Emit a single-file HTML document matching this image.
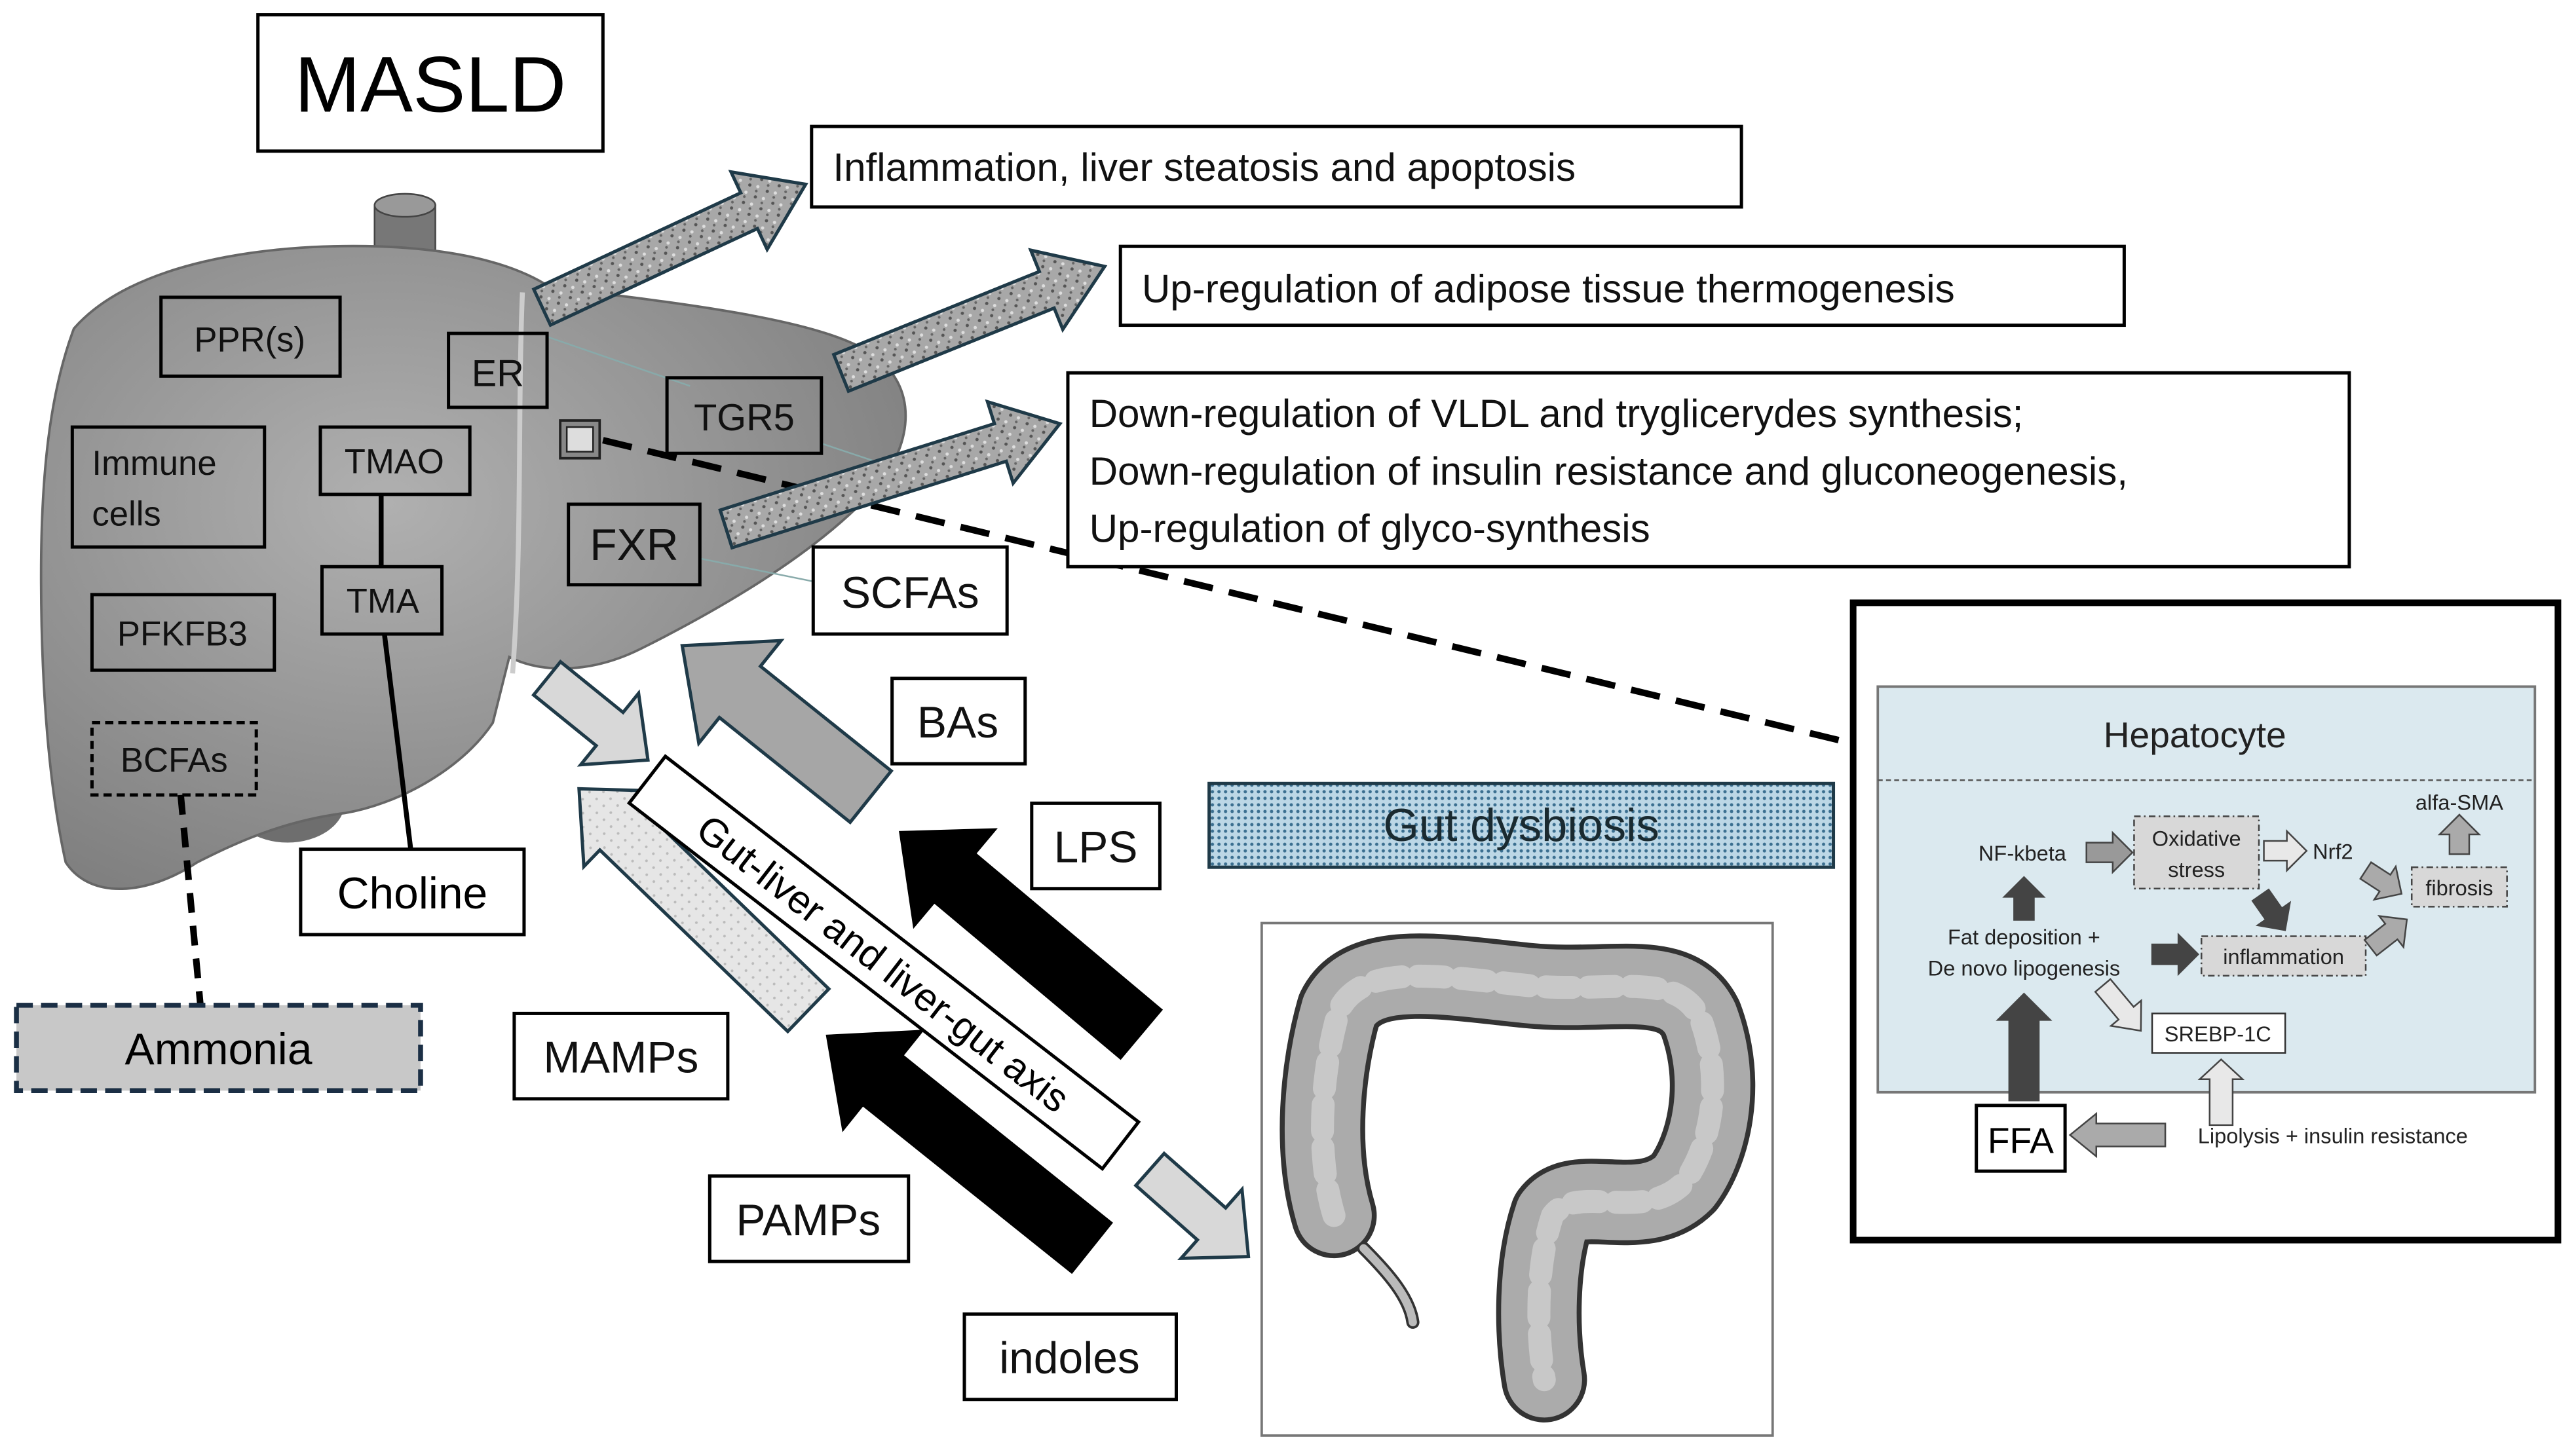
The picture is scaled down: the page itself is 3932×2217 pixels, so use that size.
<!DOCTYPE html>
<html><head><meta charset="utf-8"><style>
html,body{margin:0;padding:0;background:#fff;}
svg{display:block;}
text{font-family:"Liberation Sans",sans-serif;}
</style></head><body>
<svg width="3932" height="2217" viewBox="0 0 1568 884" preserveAspectRatio="none" xmlns="http://www.w3.org/2000/svg">
<defs>
<radialGradient id="lg" cx="0.4" cy="0.4" r="0.7">
<stop offset="0" stop-color="#b0b0b0"/><stop offset="1" stop-color="#7e7e7e"/></radialGradient>
<pattern id="spk" width="8" height="8" patternUnits="userSpaceOnUse">
<rect width="8" height="8" fill="#a8a8a8"/><circle cx="2" cy="2" r="1" fill="#555"/><circle cx="6" cy="5" r="1" fill="#ddd"/><circle cx="4" cy="7" r=".8" fill="#666"/></pattern>
<pattern id="dot" width="4" height="4" patternUnits="userSpaceOnUse">
<rect width="4" height="4" fill="#bcd7e6"/><circle cx="2" cy="2" r="1" fill="#3b6f90"/></pattern>
<pattern id="lt" width="6" height="6" patternUnits="userSpaceOnUse">
<rect width="6" height="6" fill="#e6e6e6"/><circle cx="2" cy="3" r=".8" fill="#bbb"/></pattern>
</defs>

<rect x="157" y="9" width="210" height="83" fill="#fff" stroke="#000" stroke-width="2"/>
<text x="262" y="68" font-size="48" text-anchor="middle">MASLD</text>

<rect x="228" y="125" width="37" height="40" fill="#777" stroke="#444"/>
<ellipse cx="246.5" cy="125" rx="18.5" ry="7" fill="#999" stroke="#444"/>
<ellipse cx="175" cy="488" rx="35" ry="25" fill="#6e6e6e"/>
<path d="M45,200 C80,160 160,148 230,150 C290,152 320,165 335,175 C420,185 500,195 530,215 C560,235 555,270 535,295 C500,335 440,370 390,395 C360,410 330,410 310,400 L300,440 C280,470 240,490 210,495 C170,500 140,515 120,525 C90,545 55,548 40,525 C30,480 25,420 25,350 C25,290 30,240 45,200 Z" fill="url(#lg)" stroke="#666" stroke-width="1.5"/>
<path d="M318,178 C315,250 318,330 312,410" stroke="#ccc" stroke-width="3" fill="none"/>
<line x1="333" y1="205" x2="420" y2="235" stroke="#8aa" stroke-width="1"/>
<line x1="500" y1="270" x2="560" y2="290" stroke="#8aa" stroke-width="1"/>
<line x1="426" y1="340" x2="500" y2="355" stroke="#8aa" stroke-width="1"/>

<g fill="none" stroke="#000" stroke-width="2">
<rect x="98" y="181" width="109" height="48"/>
<rect x="273" y="203" width="60" height="45"/>
<rect x="44" y="260" width="117" height="73"/>
<rect x="195" y="260" width="91" height="41"/>
<rect x="196" y="345" width="73" height="41"/>
<rect x="406" y="230" width="94" height="46"/>
<rect x="346" y="307" width="80" height="49"/>
<rect x="56" y="362" width="111" height="46"/>
<rect x="56" y="440" width="100" height="44" stroke-dasharray="5,3"/>
</g>
<rect x="341" y="256" width="24" height="23" fill="#888" stroke="#222" stroke-width="1.5"/>
<rect x="345" y="260" width="16" height="15" fill="#ddd" stroke="#222" stroke-width="1"/>
<g font-size="21" fill="#111">
<text x="152" y="214" text-anchor="middle">PPR(s)</text>
<text x="303" y="235" font-size="23" text-anchor="middle">ER</text>
<text x="56" y="289">Immune</text><text x="56" y="320">cells</text>
<text x="240" y="288" text-anchor="middle">TMAO</text>
<text x="233" y="373" text-anchor="middle">TMA</text>
<text x="453" y="262" font-size="23" text-anchor="middle">TGR5</text>
<text x="386" y="341" font-size="27" text-anchor="middle">FXR</text>
<text x="111" y="393" text-anchor="middle">PFKFB3</text>
<text x="106" y="470" text-anchor="middle">BCFAs</text>
</g>
<line x1="232" y1="301" x2="232" y2="345" stroke="#000" stroke-width="3"/>
<line x1="234" y1="386" x2="250" y2="517" stroke="#000" stroke-width="3"/>
<line x1="110" y1="484" x2="122" y2="612" stroke="#000" stroke-width="4" stroke-dasharray="12,8"/>
<line x1="367" y1="268" x2="1125" y2="452" stroke="#000" stroke-width="4" stroke-dasharray="18,10"/>

<rect x="183" y="517" width="136" height="52" fill="#fff" stroke="#000" stroke-width="2"/>
<text x="251" y="553" font-size="27" text-anchor="middle">Choline</text>
<rect x="10" y="612" width="246" height="52" fill="#c8c8c8" stroke="#1b2f45" stroke-width="3" stroke-dasharray="10,5"/>
<text x="133" y="648" font-size="27" text-anchor="middle">Ammonia</text>

<g fill="url(#spk)" stroke="#1f3a48" stroke-width="2">
<polygon transform="translate(330,187) rotate(-25)" points="0,-12 139,-12 139,-26 177,0 139,26 139,12 0,12"/>
<polygon transform="translate(512,227) rotate(-22)" points="0,-12 135,-12 135,-26 173,0 135,26 135,12 0,12"/>
<polygon transform="translate(442,322) rotate(-17.5)" points="0,-12 175,-12 175,-26 213,0 175,26 175,12 0,12"/>
</g>

<g fill="#fff" stroke="#000" stroke-width="2">
<rect x="494" y="77" width="566" height="49"/>
<rect x="682" y="150" width="611" height="48"/>
<rect x="650" y="227" width="780" height="118"/>
<rect x="495" y="333" width="118" height="53"/>
<rect x="543" y="413" width="81" height="52"/>
<rect x="628" y="489" width="78" height="52"/>
<rect x="313" y="617" width="130" height="52"/>
<rect x="432" y="716" width="121" height="52"/>
<rect x="587" y="800" width="129" height="52"/>
</g>
<g font-size="24" fill="#111">
<text x="507" y="110">Inflammation, liver steatosis and apoptosis</text>
<text x="695" y="184">Up-regulation of adipose tissue thermogenesis</text>
<text x="663" y="260">Down-regulation of VLDL and tryglicerydes synthesis;</text>
<text x="663" y="295">Down-regulation of insulin resistance and gluconeogenesis,</text>
<text x="663" y="330">Up-regulation of glyco-synthesis</text>
<text x="554" y="370" font-size="27" text-anchor="middle">SCFAs</text>
<text x="583" y="449" font-size="27" text-anchor="middle">BAs</text>
<text x="667" y="525" font-size="27" text-anchor="middle">LPS</text>
<text x="378" y="653" font-size="27" text-anchor="middle">MAMPs</text>
<text x="492" y="752" font-size="27" text-anchor="middle">PAMPs</text>
<text x="651" y="836" font-size="27" text-anchor="middle">indoles</text>
</g>

<rect x="736" y="477" width="380" height="51" fill="url(#dot)" stroke="#1f3a48" stroke-width="2"/>
<text x="926" y="512" font-size="28" text-anchor="middle" fill="#1a2a30">Gut dysbiosis</text>

<polygon transform="translate(333,413) rotate(39)" points="0,-13 49,-13 49,-28 79,0 49,28 49,13 0,13" fill="#d8d8d8" stroke="#1f3a48" stroke-width="2"/>
<polygon transform="translate(530,485) rotate(218.7)" points="0,-20 102,-20 102,-40 147,0 102,40 102,20 0,20" fill="#a6a6a6" stroke="#1f3a48" stroke-width="2"/>
<polygon transform="translate(492,615) rotate(224)" points="0,-18 159,-18 159,-32 194,0 159,32 159,18 0,18" fill="url(#lt)" stroke="#1f3a48" stroke-width="2"/>
<polygon transform="translate(695,630) rotate(220)" points="0,-20 148,-20 148,-40 193,0 148,40 148,20 0,20" fill="#000"/>
<polygon transform="translate(665,760) rotate(218.7)" points="0,-20 163,-20 163,-40 208,0 163,40 163,20 0,20" fill="#000"/>
<polygon transform="translate(700,712) rotate(41.5)" points="0,-13 50,-13 50,-28 80,0 50,28 50,13 0,13" fill="#d8d8d8" stroke="#1f3a48" stroke-width="2"/>

<g transform="translate(538,586) rotate(37.7)">
<rect x="-182" y="-18" width="364" height="36" fill="#fff" stroke="#000" stroke-width="2"/>
<text x="0" y="9" font-size="24" text-anchor="middle">Gut-liver and liver-gut axis</text>
</g>

<rect x="768" y="562" width="311" height="312" fill="#fff" stroke="#777" stroke-width="1.5"/>
<g fill="none" stroke-linecap="round" stroke-linejoin="round">
<path d="M812,740 C800,700 805,650 815,615 C830,585 880,595 930,600 C980,605 1020,590 1035,620 C1050,660 1040,700 1025,720 C1000,745 960,720 945,740 C935,770 935,810 940,840" stroke="#333" stroke-width="52"/>
<path d="M812,740 C800,700 805,650 815,615 C830,585 880,595 930,600 C980,605 1020,590 1035,620 C1050,660 1040,700 1025,720 C1000,745 960,720 945,740 C935,770 935,810 940,840" stroke="#ababab" stroke-width="46"/>
<path d="M812,740 C800,700 805,650 815,615 C830,585 880,595 930,600 C980,605 1020,590 1035,620 C1050,660 1040,700 1025,720 C1000,745 960,720 945,740 C935,770 935,810 940,840" stroke="#c8c8c8" stroke-width="14" stroke-dasharray="16,10"/>
<path d="M830,760 C845,775 858,790 860,805" stroke="#333" stroke-width="8"/>
<path d="M830,760 C845,775 858,790 860,805" stroke="#bbb" stroke-width="5"/>
</g>

<rect x="1128" y="367" width="429" height="388" fill="#fff" stroke="#000" stroke-width="4"/>
<rect x="1143" y="418" width="400" height="247" fill="#dbe9ef" stroke="#777" stroke-width="1.5"/>
<line x1="1143" y1="475" x2="1543" y2="475" stroke="#555" stroke-dasharray="3,2"/>
<text x="1336" y="455" font-size="22" text-anchor="middle" fill="#222">Hepatocyte</text>
<g fill="#d8d8d8" stroke="#444" stroke-dasharray="4,2,1,2">
<rect x="1299" y="497" width="76" height="44"/>
<rect x="1468" y="528" width="58" height="24"/>
<rect x="1340" y="570" width="100" height="24"/>
</g>
<rect x="1310" y="617" width="81" height="24" fill="#fff" stroke="#333"/>
<rect x="1203" y="673" width="54" height="40" fill="#fff" stroke="#000" stroke-width="2"/>
<g font-size="13" fill="#222" text-anchor="middle">
<text x="1231" y="524">NF-kbeta</text>
<text x="1337" y="515">Oxidative</text><text x="1337" y="534">stress</text>
<text x="1420" y="523">Nrf2</text>
<text x="1497" y="493">alfa-SMA</text>
<text x="1497" y="545">fibrosis</text>
<text x="1390" y="587">inflammation</text>
<text x="1232" y="575">Fat deposition +</text>
<text x="1232" y="594">De novo lipogenesis</text>
<text x="1350" y="634">SREBP-1C</text>
<text x="1230" y="702" font-size="22" fill="#000">FFA</text>
<text x="1420" y="696">Lipolysis + insulin resistance</text>
</g>
<g stroke="#444" stroke-width="1">
<polygon transform="translate(1270,519) rotate(0)" points="0,-6 16,-6 16,-12 28,0 16,12 16,6 0,6" fill="#999"/>
<polygon transform="translate(1378,518) rotate(0)" points="0,-6 14,-6 14,-12 26,0 14,12 14,6 0,6" fill="#e8e8e8"/>
<polygon transform="translate(1440,530) rotate(33)" points="0,-6 14,-6 14,-12 26,0 14,12 14,6 0,6" fill="#aaa"/>
<polygon transform="translate(1376,545) rotate(55)" points="0,-6 14,-6 14,-12 26,0 14,12 14,6 0,6" fill="#444"/>
<polygon transform="translate(1497,520) rotate(-90)" points="0,-6 12,-6 12,-12 24,0 12,12 12,6 0,6" fill="#aaa"/>
<polygon transform="translate(1232,560) rotate(-90)" points="0,-6 14,-6 14,-12 26,0 14,12 14,6 0,6" fill="#444"/>
<polygon transform="translate(1310,581) rotate(0)" points="0,-6 16,-6 16,-12 28,0 16,12 16,6 0,6" fill="#444"/>
<polygon transform="translate(1443,577) rotate(-38)" points="0,-6 16,-6 16,-12 28,0 16,12 16,6 0,6" fill="#aaa"/>
<polygon transform="translate(1280,600) rotate(50)" points="0,-6 22,-6 22,-12 36,0 22,12 22,6 0,6" fill="#e8e8e8"/>
<polygon transform="translate(1232,670) rotate(-90)" points="0,-9 49,-9 49,-16 65,0 49,16 49,9 0,9" fill="#444"/>
<polygon transform="translate(1318,691) rotate(180)" points="0,-7 42,-7 42,-13 58,0 42,13 42,7 0,7" fill="#aaa"/>
<polygon transform="translate(1352,685) rotate(-90)" points="0,-7 28,-7 28,-13 40,0 28,13 28,7 0,7" fill="#e8e8e8"/>
</g>
</svg>
</body></html>
